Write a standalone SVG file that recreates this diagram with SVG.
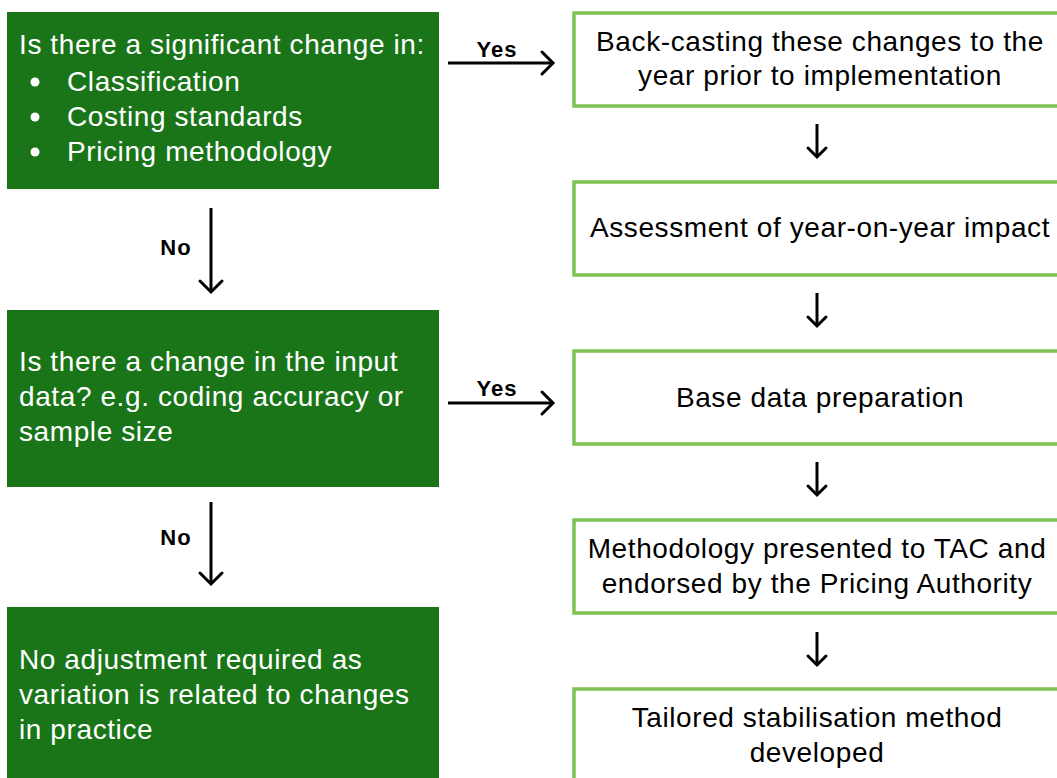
<svg xmlns="http://www.w3.org/2000/svg" width="1057" height="778" viewBox="0 0 1057 778">
<style>
.dec{fill:#1a7519;}
.step{fill:#ffffff;stroke:#7dc353;stroke-width:3.5;}
.wt{font-family:"Liberation Sans",Arial,sans-serif;font-size:28px;letter-spacing:0.6px;fill:#ffffff;}
.bt{font-family:"Liberation Sans",Arial,sans-serif;font-size:28px;letter-spacing:0.6px;fill:#000000;text-anchor:middle;}
.lbl{font-family:"Liberation Sans",Arial,sans-serif;font-size:22px;letter-spacing:1px;font-weight:bold;fill:#000000;text-anchor:middle;}
.conn{stroke:#000000;stroke-width:3;fill:none;}
</style>
<defs>
<marker id="big" viewBox="-15 -15 30 30" refX="0" refY="0" markerUnits="userSpaceOnUse" markerWidth="30" markerHeight="30" orient="auto">
<path d="M-11,-11 L0,0 L-11,11" fill="none" stroke="#000" stroke-width="3" stroke-linecap="round"/>
</marker>
<marker id="small" viewBox="-15 -15 30 30" refX="0" refY="0" markerUnits="userSpaceOnUse" markerWidth="30" markerHeight="30" orient="auto">
<path d="M-9,-9 L0,0 L-9,9" fill="none" stroke="#000" stroke-width="3" stroke-linecap="round"/>
</marker>
</defs>
<rect width="1057" height="778" fill="#ffffff"/>
<g id="q1">
<rect class="dec" x="7" y="12" width="432" height="177"/>
<text class="wt" x="19" y="54">Is there a significant change in:</text>
<circle cx="35" cy="82" r="4.5" fill="#fff"/>
<text class="wt" x="67" y="91">Classification</text>
<circle cx="35" cy="117" r="4.5" fill="#fff"/>
<text class="wt" x="67" y="126">Costing standards</text>
<circle cx="35" cy="152" r="4.5" fill="#fff"/>
<text class="wt" x="67" y="161">Pricing methodology</text>
</g>
<g id="q2">
<rect class="dec" x="7" y="310" width="432" height="177"/>
<text class="wt" x="19" y="371">Is there a change in the input</text>
<text class="wt" x="19" y="406">data? e.g. coding accuracy or</text>
<text class="wt" x="19" y="441">sample size</text>
</g>
<g id="noadj">
<rect class="dec" x="7" y="607" width="432" height="180"/>
<text class="wt" x="19" y="669">No adjustment required as</text>
<text class="wt" x="19" y="704">variation is related to changes</text>
<text class="wt" x="19" y="739">in practice</text>
</g>
<g id="s1">
<rect class="step" x="574" y="13" width="492" height="93"/>
<text class="bt" x="820" y="51">Back-casting these changes to the</text>
<text class="bt" x="820" y="85">year prior to implementation</text>
</g>
<g id="s2">
<rect class="step" x="574" y="182" width="492" height="93"/>
<text class="bt" x="820" y="237">Assessment of year-on-year impact</text>
</g>
<g id="s3">
<rect class="step" x="574" y="351" width="492" height="93"/>
<text class="bt" x="820" y="407">Base data preparation</text>
</g>
<g id="s4">
<rect class="step" x="574" y="520" width="492" height="93"/>
<text class="bt" x="817" y="558">Methodology presented to TAC and</text>
<text class="bt" x="817" y="593">endorsed by the Pricing Authority</text>
</g>
<g id="s5">
<rect class="step" x="574" y="689" width="492" height="100"/>
<text class="bt" x="817" y="727">Tailored stabilisation method</text>
<text class="bt" x="817" y="762">developed</text>
</g>
<g id="connectors">
<line class="conn" x1="448" y1="63" x2="553" y2="63" marker-end="url(#big)"/>
<text class="lbl" x="497" y="57">Yes</text>
<line class="conn" x1="448" y1="403" x2="553" y2="403" marker-end="url(#big)"/>
<text class="lbl" x="497" y="396">Yes</text>
<line class="conn" x1="211" y1="208" x2="211" y2="292" marker-end="url(#big)"/>
<text class="lbl" x="176" y="255">No</text>
<line class="conn" x1="211" y1="502" x2="211" y2="584" marker-end="url(#big)"/>
<text class="lbl" x="176" y="545">No</text>
<line class="conn" x1="817" y1="124" x2="817" y2="157" marker-end="url(#small)"/>
<line class="conn" x1="817" y1="293" x2="817" y2="326" marker-end="url(#small)"/>
<line class="conn" x1="817" y1="462" x2="817" y2="495" marker-end="url(#small)"/>
<line class="conn" x1="817" y1="632" x2="817" y2="665" marker-end="url(#small)"/>
</g>
</svg>
